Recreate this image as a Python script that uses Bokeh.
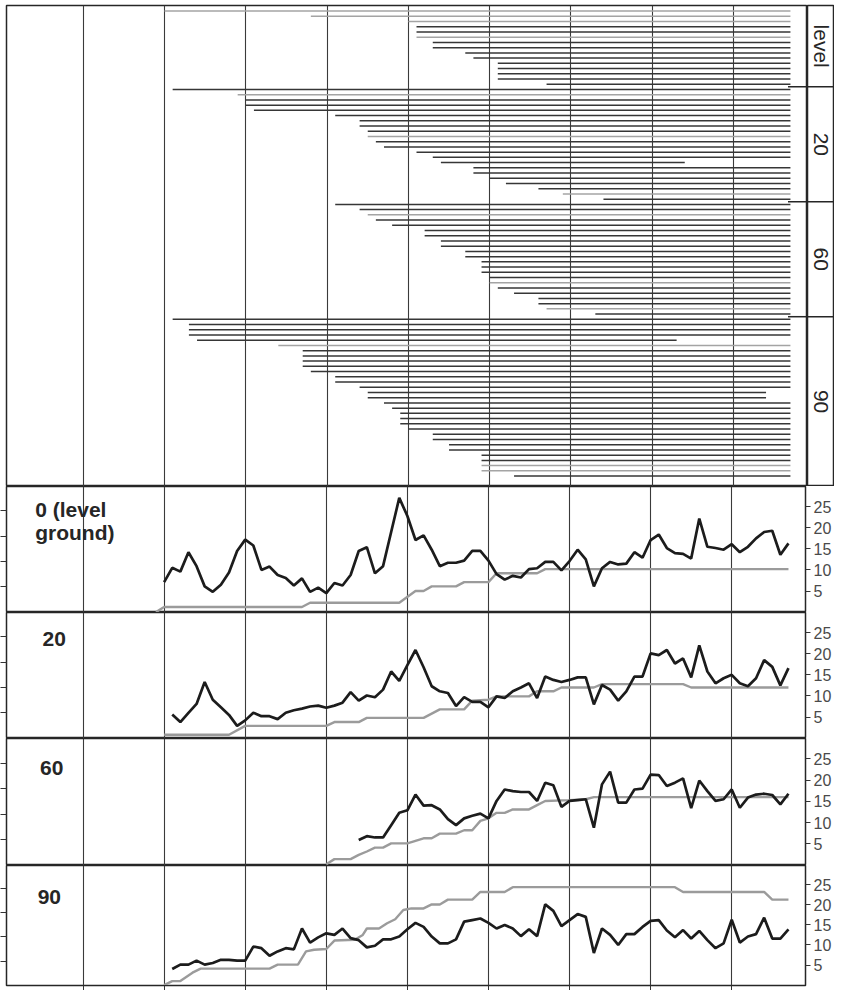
from math import pi
import numpy as np
from bokeh.plotting import figure
from bokeh.layouts import column, row
from bokeh.models import Range1d, LinearAxis, FixedTicker, Grid
from bokeh.core.properties import value
from bokeh.embed import file_html
from bokeh.resources import INLINE

# ---- top panel: one row per animal, first day seen -> last day, grey = censored
group_names = ["level", "20", "60", "90"]
group_sizes = [15, 22, 22, 31]
seg_start = [20, 38, 50, 51, 51, 51, 53, 53, 57, 58, 61, 61, 61, 61, 67,
             21, 29, 30, 30, 31, 41, 44, 44, 45, 45, 46, 47, 51, 53, 54, 58, 58, 60, 62, 66, 69, 74,
             41, 44, 45, 46, 48, 52, 52, 54, 54, 57, 57, 59, 59, 59, 60, 60, 61, 63, 66, 66, 67, 73,
             21, 23, 23, 23, 24, 34, 37, 37, 37, 37, 38, 41, 41, 44, 45, 45, 47, 48, 49, 49, 49, 50,
             53, 53, 55, 55, 59, 59, 59, 59, 63]
seg_end = [97, 97, 97, 97, 97, 97, 97, 97, 97, 97, 97, 97, 97, 97, 97,
           97, 97, 97, 97, 97, 97, 97, 97, 97, 97, 97, 97, 97, 97, 84, 97, 97, 97, 97, 97, 97, 97,
           97, 97, 97, 97, 97, 97, 97, 97, 97, 97, 97, 97, 97, 97, 97, 97, 97, 97, 97, 97, 97, 97,
           97, 97, 97, 97, 83, 97, 97, 97, 97, 97, 97, 97, 97, 97, 94, 94, 97, 97, 97, 97, 97, 97,
           97, 97, 97, 97, 97, 97, 97, 97, 97]
seg_grey = [1, 1, 1, 0, 0, 1, 0, 0, 0, 0, 0, 0, 0, 0, 0,
            0, 1, 0, 0, 0, 0, 0, 0, 0, 1, 0, 0, 0, 0, 0, 0, 0, 0, 0, 0, 1, 0,
            0, 0, 1, 0, 0, 0, 0, 0, 0, 0, 0, 0, 0, 0, 0, 1, 0, 0, 0, 0, 1, 0,
            0, 0, 0, 0, 0, 1, 0, 0, 0, 0, 0, 0, 0, 0, 0, 0, 0, 0, 0, 0, 0, 0,
            0, 0, 0, 0, 0, 0, 1, 1, 0]

# ---- lower panels: daily value (black) and running total (grey)
panel_labels = ["0 (level\nground)", "20", "60", "90"]
grid_days = [10, 20, 30, 40, 50, 60, 70, 80, 90]
right_ticks = [5, 10, 15, 20, 25]
left_ticks = [6, 12, 18, 24]

black_start = [20, 21, 44, 21]
black0 = [7.1, 10.5, 9.6, 14.2, 10.9, 6.1, 4.8, 6.5, 9.4, 14.5,
          17.2, 15.8, 10.0, 10.8, 8.8, 8.1, 6.3, 8.0, 4.8, 5.8,
          4.5, 6.9, 6.3, 8.8, 14.5, 15.4, 9.2, 10.9, 19.0, 27.1,
          22.8, 17.1, 18.2, 14.8, 10.9, 11.7, 11.7, 12.2, 14.5, 14.5,
          12.2, 9.0, 7.7, 8.6, 8.2, 10.2, 10.4, 11.9, 11.9, 9.9,
          12.1, 14.8, 12.5, 6.1, 10.4, 11.9, 11.3, 11.5, 14.2, 12.9,
          17.1, 18.4, 15.2, 14.0, 13.8, 12.7, 22.2, 15.5, 15.2, 14.8,
          16.1, 14.2, 15.5, 17.5, 19.0, 19.3, 13.6, 16.3]
black1 = [5.6, 3.8, 6.0, 8.1, 13.3, 9.1, 7.3, 5.5, 2.9,
          4.2, 6.0, 5.2, 5.2, 4.5, 6.0, 6.6, 7.0, 7.5, 7.7,
          7.2, 7.7, 8.4, 10.9, 8.9, 10.1, 9.7, 11.5, 15.8, 13.6,
          17.3, 20.9, 16.8, 12.3, 11.1, 10.7, 7.6, 9.7, 8.6, 8.6,
          7.3, 9.9, 9.5, 11.1, 12.0, 13.0, 9.5, 14.6, 13.8, 13.3,
          13.8, 14.4, 14.4, 8.0, 12.6, 11.5, 8.9, 11.1, 14.6, 14.6,
          20.1, 19.7, 20.9, 17.7, 18.9, 14.4, 22.0, 15.8, 13.0, 14.2,
          15.0, 13.0, 12.3, 14.2, 18.5, 16.9, 12.5, 16.6]
black2 = [5.9, 6.8, 6.5, 6.5, 9.4, 12.3,
          12.9, 16.6, 14.0, 14.1, 13.1, 10.8, 9.4, 11.0, 11.6, 12.1,
          11.0, 15.1, 17.8, 17.4, 17.2, 17.2, 15.1, 19.4, 18.8, 13.7,
          15.1, 15.3, 15.5, 8.8, 19.0, 22.0, 14.7, 14.7, 17.8, 18.0,
          21.3, 21.2, 18.6, 19.4, 20.4, 13.4, 19.9, 17.4, 15.1, 15.5,
          17.8, 13.5, 15.9, 16.6, 16.8, 16.5, 14.3, 16.8]
black3 = [4.0, 5.1, 5.1, 6.1, 5.1, 5.5, 6.3, 6.3, 6.1,
          6.1, 9.6, 9.2, 7.3, 8.4, 9.2, 8.9, 14.1, 10.6, 11.9,
          12.9, 12.5, 14.1, 11.7, 11.2, 9.4, 9.8, 11.4, 11.4, 12.1,
          13.9, 15.5, 14.5, 12.1, 10.4, 10.4, 11.4, 15.8, 16.2, 16.6,
          15.5, 14.1, 15.0, 14.1, 12.2, 13.9, 12.2, 20.1, 18.5, 14.7,
          16.2, 17.7, 17.0, 8.0, 14.1, 12.5, 10.0, 12.7, 12.7, 14.5,
          16.0, 16.2, 13.6, 11.9, 13.7, 11.6, 13.5, 11.2, 9.2, 10.4,
          16.3, 10.6, 12.1, 12.7, 16.8, 11.6, 11.6, 13.9]

grey_t0 = [19, 20, 37, 38, 49, 51, 52, 53, 56, 57, 60, 61, 66, 67, 97]
grey_v0 = [0.0, 1.2, 1.2, 2.2, 2.2, 5.0, 5.0, 6.1, 6.1, 7.1, 7.1, 9.2, 9.2, 10.2, 10.2]
grey_t1 = [20, 28, 30, 40, 41, 44, 45, 52, 54, 57, 58, 60, 61, 65, 66, 68, 69, 73, 74, 84, 85, 97]
grey_v1 = [0.8, 0.8, 2.9, 2.9, 3.8, 3.8, 4.8, 4.8, 6.8, 6.8, 8.9, 9.1, 9.9, 9.9, 11.1, 11.1,
           12.0, 12.0, 12.8, 12.8, 12.0, 12.0]
grey_t2 = [40, 41, 43, 44, 45, 46, 47, 48, 50, 52, 53, 54, 56, 57, 58, 59, 60, 61, 62, 63, 65,
           66, 67, 70, 72, 73, 97]
grey_v2 = [0.2, 1.4, 1.4, 2.4, 3.2, 4.1, 4.1, 5.1, 5.1, 6.3, 6.3, 7.4, 7.4, 8.2, 8.2, 10.4, 11.0,
           12.3, 12.3, 13.1, 13.1, 14.1, 15.1, 15.3, 15.5, 16.0, 16.0]
grey_t3 = [20, 21, 22, 23.5, 24.5, 33, 34, 36.5, 37.5, 38.5, 40, 41, 43.5, 44.5, 45, 46.5, 47.5,
           48.5, 49.5, 50.5, 52, 53, 54, 55, 58, 59, 62, 63, 83, 84, 94, 95, 97]
grey_v3 = [0.0, 1.0, 1.0, 3.1, 4.1, 4.1, 5.1, 5.1, 8.4, 8.8, 9.0, 11.1, 11.3, 12.5, 14.1, 14.1, 15.4,
           16.4, 18.7, 19.1, 19.1, 20.1, 20.1, 21.3, 21.3, 23.2, 23.2, 24.4, 24.4, 23.2, 23.2, 21.3, 21.3]

black_vals = [black0, black1, black2, black3]
grey_t = [grey_t0, grey_t1, grey_t2, grey_t3]
grey_v = [grey_v0, grey_v1, grey_v2, grey_v3]

FONT_NAME = "Liberation Sans"
FONT = value(FONT_NAME)
INK = "#262626"
DARK = "#363636"
GREY = "#a4a4a4"
W = 834
LEFT, RIGHT = 6, 27            # borders around the shared plotting frame
X0, X1 = 0.56, 99.1


def style(p):
    p.grid.visible = False
    p.add_layout(Grid(dimension=0, ticker=FixedTicker(ticks=grid_days),
                      grid_line_color="#3a3a3a", grid_line_width=1.1))
    p.outline_line_color = INK
    p.outline_line_width = 1.5


shared_x = Range1d(X0, X1)
rows_range = Range1d(91.0, -1.07)

# top panel
top = figure(width=W - RIGHT, height=486, x_range=shared_x, y_range=rows_range,
             x_axis_location=None, y_axis_location=None,
             output_backend="svg", toolbar_location=None,
             min_border_left=LEFT, min_border_right=0, min_border_top=5, min_border_bottom=0)
style(top)

rows = np.arange(len(seg_start))
seg_colors = [GREY if g else DARK for g in seg_grey]
top.segment(x0=seg_start, y0=rows, x1=seg_end, y1=rows, line_color=seg_colors, line_width=1.5)

bounds = list(np.cumsum(group_sizes)[:-1] - 0.5)
top.segment(x0=[X1 - 2.4] * len(bounds), y0=bounds, x1=[X1 + 1] * len(bounds), y1=bounds,
            line_color=INK, line_width=1.5)

# strip with the group names
strip = figure(width=RIGHT, height=486, x_range=Range1d(0, 1), y_range=rows_range,
               x_axis_location=None, y_axis_location=None,
               output_backend="svg", toolbar_location=None,
               min_border_left=0, min_border_right=0, min_border_top=5, min_border_bottom=0)
strip.grid.visible = False
strip.outline_line_color = INK
strip.outline_line_width = 1.5
strip.segment(x0=[0] * len(bounds), y0=bounds, x1=[1] * len(bounds), y1=bounds,
              line_color=INK, line_width=1.5)
edges = [-1.07] + bounds + [91.0]
centres = [(a + b) / 2 for a, b in zip(edges[:-1], edges[1:])]
strip.text(x=[0.5] * len(group_names), y=centres, text=group_names, angle=-pi / 2,
           text_font=FONT, text_font_size="21px", text_color=INK,
           text_align="center", text_baseline="middle")

# lower panels
heights = [126, 126, 127, 125]
label_x = [4.1, 5.0, 4.7, 4.4]
label_y = [27.0, 25.1, 24.5, 23.6]
panels = []
for i, name in enumerate(panel_labels):
    p = figure(width=W, height=heights[i], x_range=shared_x, y_range=Range1d(-0.1, 29.8),
               x_axis_location=None, y_axis_location=None,
               output_backend="svg", toolbar_location=None,
               min_border_left=LEFT, min_border_right=RIGHT, min_border_top=0, min_border_bottom=0)
    style(p)

    ax_r = LinearAxis(ticker=FixedTicker(ticks=right_ticks),
                      major_tick_out=5, major_tick_in=0, minor_tick_out=0, minor_tick_in=0,
                      major_label_standoff=3, major_label_text_font=FONT_NAME,
                      major_label_text_font_size="16px", major_label_text_color="#4a4a4a",
                      axis_line_color=INK, major_tick_line_color="#333333")
    p.add_layout(ax_r, "right")
    ax_l = LinearAxis(ticker=FixedTicker(ticks=left_ticks),
                      major_label_overrides={t: "" for t in left_ticks},
                      major_tick_out=6, major_tick_in=0, minor_tick_out=0, minor_tick_in=0,
                      major_label_standoff=0, axis_line_color=INK, major_tick_line_color="#333333")
    p.add_layout(ax_l, "left")
    if i == 3:
        ax_b = LinearAxis(ticker=FixedTicker(ticks=grid_days),
                          major_label_overrides={t: "" for t in grid_days},
                          major_tick_out=5, major_tick_in=0, minor_tick_out=0, minor_tick_in=0,
                          major_label_standoff=0, axis_line_color=INK,
                          major_tick_line_color="#333333")
        p.add_layout(ax_b, "below")

    days = np.arange(black_start[i], black_start[i] + len(black_vals[i]))
    p.line(grey_t[i], grey_v[i], line_color="#9b9b9b", line_width=2.4)
    p.line(days, black_vals[i], line_color="#1c1c1c", line_width=2.7)
    p.text(x=[label_x[i]], y=[label_y[i]], text=[name], text_font=FONT, text_font_style="bold",
           text_font_size="21px", text_color=INK, text_baseline="top", text_align="left",
           text_line_height=1.0)
    panels.append(p)

layout = column([row(top, strip, spacing=0)] + panels, spacing=0)
open("out.html", "w").write(file_html(layout, INLINE))
